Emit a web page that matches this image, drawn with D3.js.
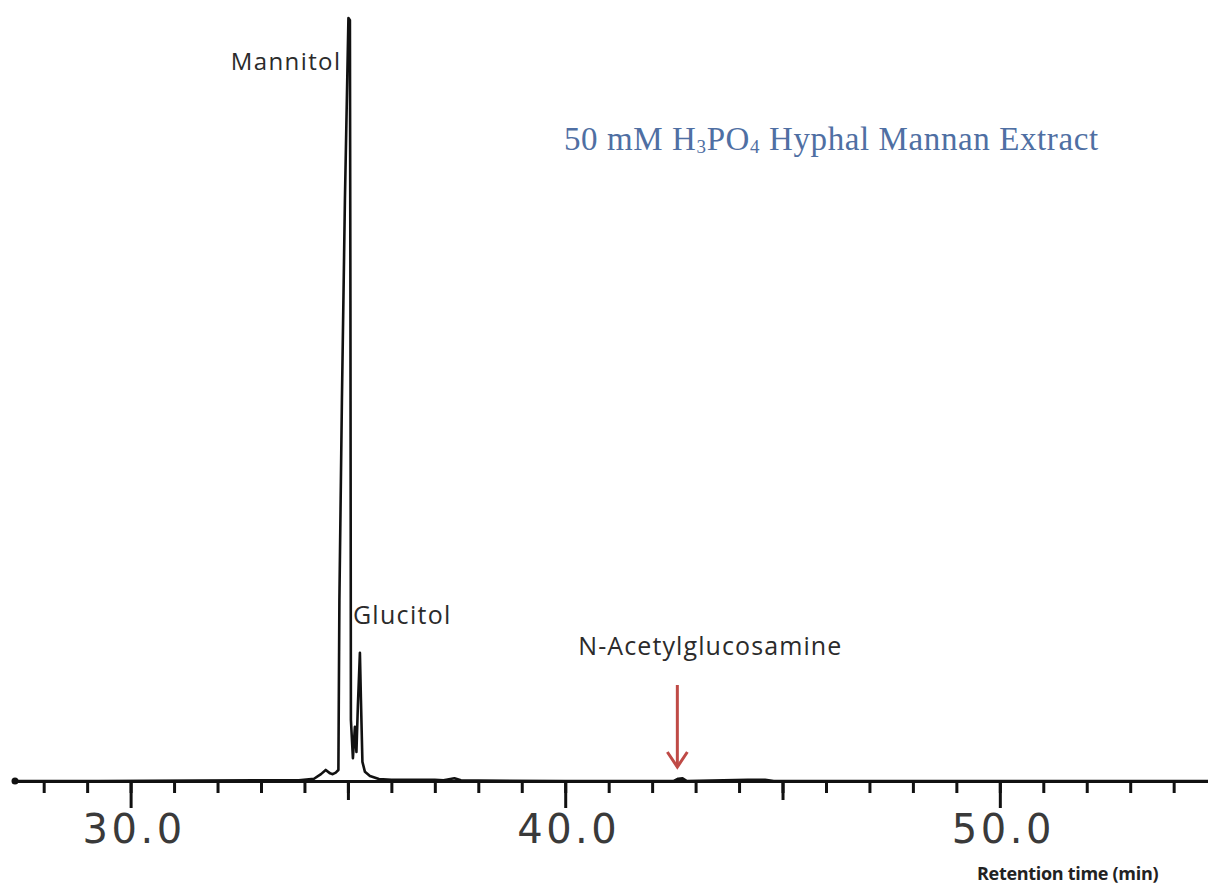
<!DOCTYPE html>
<html>
<head>
<meta charset="utf-8">
<script src="https://cdn.jsdelivr.net/npm/d3@7"></script>
<style>
  html, body { margin: 0; padding: 0; background: #ffffff; }
  svg { display: block; }
</style>
</head>
<body>
<svg id="chart" width="1208" height="888"></svg>
<script>
// ---------- DATA ----------
// retention time (min)
const times = [
  27.34, 29.26, 31.57, 33.87, 34.22, 34.38, 34.49, 34.59, 34.65, 34.72,
  34.781, 34.804, 34.862, 34.931, 35.012, 35.046, 35.058, 35.069, 35.115, 35.161,
  35.196, 35.230, 35.276, 35.300, 35.334, 35.392, 35.507, 35.714, 36.0, 37.0,
  37.2, 37.45, 37.6, 38.0, 40.0, 42.5, 42.6, 42.7, 42.8, 44.2,
  44.6, 44.8, 54.79
];
// detector signal (relative units, Mannitol apex = 100)
const signal = [
  0, 0, 0.05, 0.1, 0.3, 0.9, 1.45, 1.0, 0.9, 1.1,
  1.44, 23.7, 49.9, 76.1, 100, 99.7, 63, 8.0, 3.0, 7.1,
  3.8, 10.0, 16.8, 10.6, 2.5, 1.2, 0.65, 0.26, 0.15, 0.15,
  0.1, 0.35, 0.1, 0.05, 0, 0, 0.3, 0.35, 0, 0.15,
  0.15, 0, 0
];
const minorTicks = d3.range(28, 55, 1);
const mediumTicks = [35, 45];
const majorTicks = [30, 40, 50];
const majorTickLabels = ["30.0", "40.0", "50.0"];

const peakNames = ["Mannitol", "Glucitol"];
const peakTimes = [35.012, 35.276];
const peakValues = [100, 16.8];
const arrowName = "N-Acetylglucosamine";
const arrowTime = 42.58;

const titleParts = ["50 mM H", "3", "PO", "4", " Hyphal Mannan Extract"];
const xAxisTitle = "Retention time (min)";

// ---------- LAYOUT ----------
const svg = d3.select("#chart");
const baselineY = 781;

const x = d3.scaleLinear().domain([27.34, 54.79]).range([15, 1208]);
const y = d3.scaleLinear().domain([0, 100]).range([baselineY, 18]);

// Title
const title = svg.append("text")
  .attr("x", 564).attr("y", 150)
  .attr("font-family", "'Liberation Serif', 'Times New Roman', serif")
  .attr("font-size", 33)
  .attr("letter-spacing", 0.6)
  .attr("fill", "#4f6fa3");
titleParts.forEach((p, i) => {
  const isSub = (i === 1 || i === 3);
  const t = title.append("tspan").text(p);
  if (isSub) {
    t.attr("font-size", 19).attr("dy", 3);
  } else if (i > 0) {
    t.attr("dy", -3);
  }
});

// Axis groups
function drawAxis(ticks, size, labels) {
  const ax = d3.axisBottom(x)
    .tickValues(ticks)
    .tickSize(size)
    .tickSizeOuter(0)
    .tickFormat((d, i) => labels ? labels[i] : "");
  const g = svg.append("g")
    .attr("transform", `translate(0,${baselineY})`)
    .call(ax);
  g.selectAll("path").attr("stroke", "#111").attr("stroke-width", 3);
  g.selectAll(".tick line").attr("stroke", "#111").attr("stroke-width", 3);
  return g;
}
drawAxis(minorTicks, 12, null);
drawAxis(mediumTicks, 19, null);
const gMaj = drawAxis(majorTicks, 27, majorTickLabels);
gMaj.selectAll(".tick text")
  .attr("y", 0)
  .attr("dy", 0)
  .attr("transform", "translate(3,62)")
  .attr("font-family", "'DejaVu Sans', sans-serif")
  .attr("font-size", 40)
  .attr("letter-spacing", 3.5)
  .attr("fill", "#3a3a3a");

// left end dot
svg.append("circle")
  .attr("cx", x(x.domain()[0]))
  .attr("cy", baselineY)
  .attr("r", 3.5)
  .attr("fill", "#111");

// Trace
const pts = times.map((t, i) => [t, signal[i]]);
const line = d3.line().x(d => x(d[0])).y(d => y(d[1]));
svg.append("path")
  .datum(pts)
  .attr("d", line)
  .attr("fill", "none")
  .attr("stroke", "#111")
  .attr("stroke-width", 2.6)
  .attr("stroke-linejoin", "round");

// Peak labels
const labelFont = "'Open Sans', 'DejaVu Sans', sans-serif";
svg.append("text")
  .attr("x", x(peakTimes[0]) - 7)
  .attr("y", y(peakValues[0]) + 52)
  .attr("text-anchor", "end")
  .attr("font-family", labelFont)
  .attr("font-size", 24)
  .attr("letter-spacing", 1.4)
  .attr("fill", "#2b2b2b")
  .text(peakNames[0]);

svg.append("text")
  .attr("x", x(peakTimes[1]) - 7)
  .attr("y", y(peakValues[1]) - 29)
  .attr("text-anchor", "start")
  .attr("font-family", labelFont)
  .attr("font-size", 25)
  .attr("letter-spacing", 1.3)
  .attr("fill", "#2b2b2b")
  .text(peakNames[1]);

// N-Acetylglucosamine label + arrow
const ax0 = x(arrowTime);
svg.append("text")
  .attr("x", ax0 + 33)
  .attr("y", 655)
  .attr("text-anchor", "middle")
  .attr("font-family", labelFont)
  .attr("font-size", 25)
  .attr("letter-spacing", 1.1)
  .attr("fill", "#2b2b2b")
  .text(arrowName);

const arrowColor = "#bf4a46";
svg.append("line")
  .attr("x1", ax0).attr("x2", ax0)
  .attr("y1", 685).attr("y2", y(0) - 14)
  .attr("stroke", arrowColor).attr("stroke-width", 3);
svg.append("path")
  .attr("d", `M${ax0 - 10},${y(0) - 29} L${ax0},${y(0) - 14} L${ax0 + 10},${y(0) - 29}`)
  .attr("fill", "none")
  .attr("stroke", arrowColor)
  .attr("stroke-width", 3)
  .attr("stroke-linejoin", "miter");

// X axis title
svg.append("text")
  .attr("x", 977)
  .attr("y", 880)
  .attr("font-family", labelFont)
  .attr("font-weight", "bold")
  .attr("font-size", 18)
  .attr("letter-spacing", -0.3)
  .attr("fill", "#222")
  .text(xAxisTitle);
</script>
</body>
</html>
